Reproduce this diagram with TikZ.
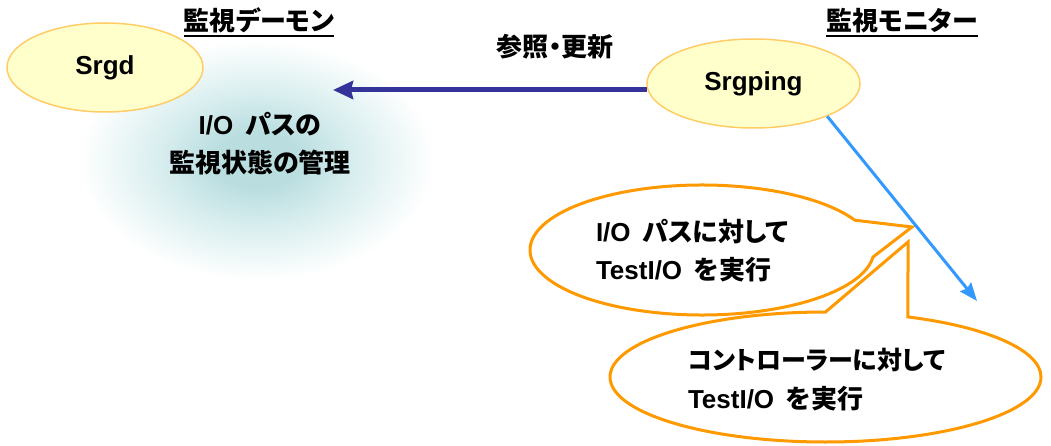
\documentclass[tikz,border=0pt]{standalone}
\usepackage{fontspec}
\setmainfont{Liberation Sans}
\newfontfamily\jp{Noto Sans CJK JP Bold}[RawFeature=+palt]
\usetikzlibrary{arrows.meta,shapes.geometric}
\definecolor{ellfill}{HTML}{FFFFCC}
\definecolor{elldraw}{HTML}{FFCC66}
\definecolor{navy}{HTML}{333399}
\definecolor{sky}{HTML}{3399FF}
\definecolor{orng}{HTML}{FF9900}
\definecolor{glowc}{HTML}{BADEE0}
\definecolor{glowmid}{HTML}{D9EEEF}
\definecolor{glowout}{HTML}{FFFFFF}
\pgfdeclareradialshading{glowshade}{\pgfpoint{0bp}{0bp}}{color(0bp)=(glowc); color(6bp)=(glowc); color(14bp)=(glowmid); color(25bp)=(glowout); color(50bp)=(glowout)}
\begin{document}
\begin{tikzpicture}[x=1pt,y=1pt,
  txt/.style={font=\fontsize{26}{30}\selectfont\bfseries, inner sep=0pt, outer sep=0pt},
  proc/.style={ellipse, fill=ellfill, draw=elldraw, line width=1.5pt, inner sep=0pt,
    font=\fontsize{26}{30}\selectfont\bfseries},
  callout/.style={draw=orng, fill=white, line width=3pt, line join=miter},
  ]
\useasboundingbox (0,0) rectangle (1051,445);
% glow
\path[shading=glowshade] (257,285) ellipse [x radius=178, y radius=120];
% callouts
\coordinate (c2) at (825.5,68);
\coordinate (p2) at (908,203);
\draw[callout] (c2) ++(90:215.5pt and 65pt) arc[start angle=90, end angle=427.5, x radius=215.5pt, y radius=65pt] -- (p2) -- cycle;
\coordinate (c1) at (702,195);
\coordinate (p1) at (912,218);
\draw[callout] (c1) ++(27.3:172pt and 65pt) arc[start angle=27.3, end angle=353.8, x radius=172pt, y radius=65pt] -- (p1) -- cycle;
% ellipses
\node[proc, minimum width=196pt, minimum height=89pt] (srgd) at (105,377.5) {Srgd};
\node[proc, minimum width=213pt, minimum height=89pt] (srgping) at (753.5,361.5) {Srgping};
% titles
\node[txt, anchor=base] (t1) at (259,414) {\jp 監視デーモン};
\draw[line width=2pt] ([yshift=-5pt]t1.base west) -- ([yshift=-5pt]t1.base east);
\node[txt, anchor=base] (t2) at (902,414) {\jp 監視モニター};
\draw[line width=2pt] ([yshift=-5pt]t2.base west) -- ([yshift=-5pt]t2.base east);
\node[txt, anchor=base] (lbl) at (555,388) {\jp 参照・更新};
% glow text
\node[txt, anchor=base] (g1) at (260,310) {I/O\hspace{12pt}{\jp パスの}};
\node[txt, anchor=base] (g2) at (260,272) {\jp 監視状態の管理};
% callout text
\node[txt, anchor=base west] (c1a) at (596,204) {I/O\hspace{12pt}{\jp パスに対して}};
\node[txt, anchor=base west] (c1b) at (596,166) {TestI/O\hspace{12pt}{\jp を実行}};
\node[txt, anchor=base west] (c2a) at (688,76) {\jp\fontsize{25}{30}\selectfont コントローラーに対して};
\node[txt, anchor=base west] (c2b) at (688,37) {TestI/O\hspace{12pt}{\jp を実行}};
% arrows
\coordinate (atip) at (333,355);
\draw[navy, line width=5pt, -{Stealth[length=20pt,width=18pt,inset=2pt]}] ([xshift=1pt]atip -| srgping.west) -- (atip);
\coordinate (btip) at (977,144);
\draw[sky, line width=3pt, -{Stealth[length=18pt,width=14pt,inset=2pt]}] (srgping.-24) -- (btip);
\end{tikzpicture}
\end{document}
